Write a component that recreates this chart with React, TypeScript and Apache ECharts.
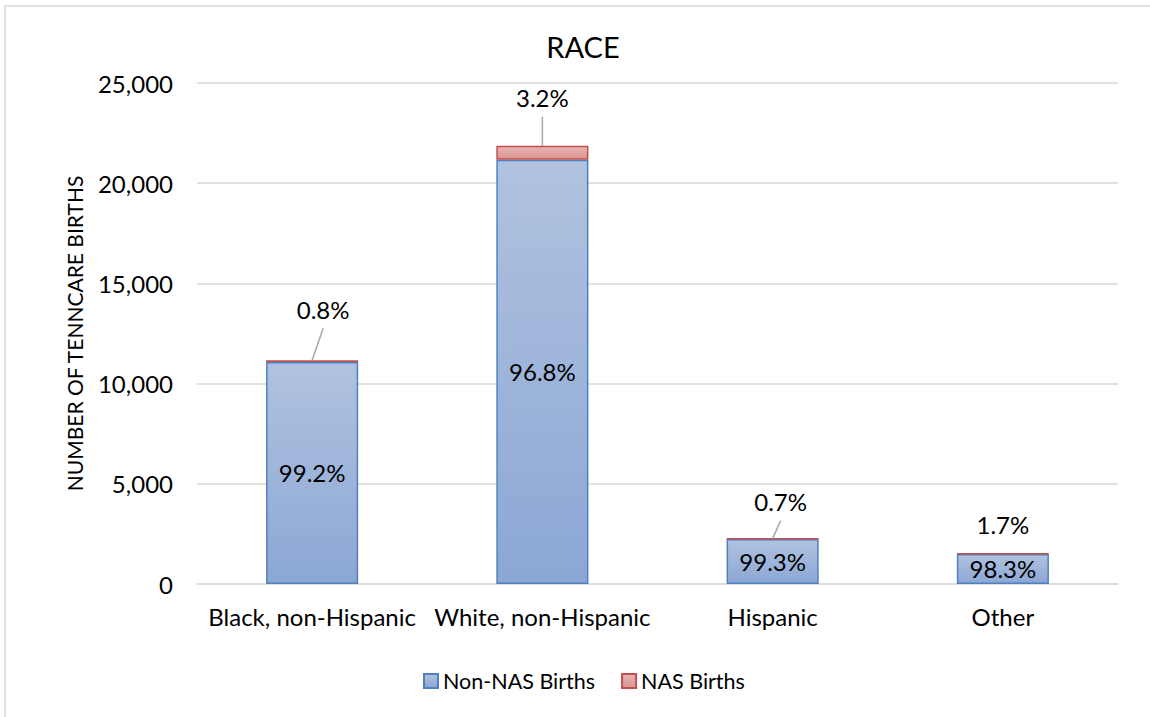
import React, { useEffect, useRef } from "react";
import * as echarts from "echarts";

// Births covered by TennCare, split by NAS diagnosis, per race group
const categories = ["Black, non-Hispanic", "White, non-Hispanic", "Hispanic", "Other"];
const nonNasBirths = [11080, 21170, 2250, 1500];
const nasBirths = [89, 700, 16, 26];
const yTicks = { min: 0, max: 25000, interval: 5000 };

// NAS callouts: label offset from the top of the stack (px) and whether a leader line is drawn
const nasCallout = [
  { dx: 11, rise: 51, line: true },
  { dx: 0, rise: 48, line: true },
  { dx: 8, rise: 37, line: true },
  { dx: 0, rise: 29, line: false },
];

const FONT = "Lato, 'Noto Sans', sans-serif";

const pct = (part: number, i: number) =>
  ((part / (nonNasBirths[i] + nasBirths[i])) * 100).toFixed(1) + "%";

export default function App() {
  const ref = useRef<HTMLDivElement>(null);

  useEffect(() => {
    if (!ref.current) return;
    const chart = echarts.init(ref.current, undefined, { renderer: "svg" });

    const blueFill = new echarts.graphic.LinearGradient(0, 0, 0, 1, [
      { offset: 0, color: "#b0c2df" },
      { offset: 1, color: "#8ca7d5" },
    ]);
    const redFill = new echarts.graphic.LinearGradient(0, 0, 0, 1, [
      { offset: 0, color: "#e8b4b3" },
      { offset: 1, color: "#d99492" },
    ]);

    chart.setOption({
      animation: false,
      backgroundColor: "#ffffff",
      textStyle: { fontFamily: FONT },
      title: {
        text: "RACE",
        left: 578,
        top: 27,
        textAlign: "center",
        textStyle: { fontFamily: FONT, fontSize: 29, fontWeight: "normal", color: "#000" },
      },
      graphic: [
        {
          type: "rect",
          shape: { x: 5, y: 6, width: 1160, height: 730 },
          style: { fill: "none", stroke: "#d9d9d9", lineWidth: 1.5 },
          silent: true,
        },
      ],
      legend: {
        bottom: 20,
        left: 418,
        icon: "rect",
        itemWidth: 14,
        itemHeight: 14,
        itemGap: 26,
        textStyle: { fontFamily: FONT, fontSize: 21.5, color: "#000" },
        data: ["Non-NAS Births", "NAS Births"],
      },
      grid: { left: 197, right: 32, top: 83, bottom: 133, containLabel: false },
      xAxis: {
        type: "category",
        data: categories,
        axisLine: { lineStyle: { color: "#d9d9d9", width: 1.5 } },
        axisTick: { show: false },
        axisLabel: { interval: 0, fontFamily: FONT, fontSize: 24, color: "#000", margin: 20 },
      },
      yAxis: {
        type: "value",
        min: yTicks.min,
        max: yTicks.max,
        interval: yTicks.interval,
        name: "NUMBER OF TENNCARE BIRTHS",
        nameLocation: "middle",
        nameGap: 112,
        nameRotate: 90,
        nameTextStyle: { fontFamily: FONT, fontSize: 21, color: "#000" },
        axisLine: { show: false },
        axisTick: { show: false },
        splitLine: { lineStyle: { color: "#d9d9d9", width: 1.5 } },
        axisLabel: {
          fontFamily: FONT,
          fontSize: 24,
          color: "#000",
          margin: 24,
          formatter: (v: number) => v.toLocaleString("en-US"),
        },
      },
      series: [
        {
          name: "Non-NAS Births",
          type: "bar",
          stack: "births",
          barWidth: "40%",
          data: nonNasBirths,
          itemStyle: { color: blueFill, borderColor: "#4f81bd", borderWidth: 1.5 },
          label: {
            show: true,
            position: "inside",
            fontFamily: FONT,
            fontSize: 24,
            color: "#000",
            formatter: (p: any) => pct(p.value, p.dataIndex),
          },
        },
        {
          name: "NAS Births",
          type: "bar",
          stack: "births",
          barWidth: "40%",
          data: nasBirths,
          itemStyle: { color: redFill, borderColor: "#c0504d", borderWidth: 1.5 },
        },
        {
          // NAS share callouts above each stack, with a leader line down to the bar
          type: "custom",
          silent: true,
          z: 5,
          data: categories.map((_, i) => [i, nonNasBirths[i] + nasBirths[i]]),
          renderItem: (params: any, api: any) => {
            const i = params.dataIndex;
            const [x, y] = api.coord([api.value(0), api.value(1)]);
            const c = nasCallout[i];
            const lx = x + c.dx;
            const ly = y - c.rise;
            const children: any[] = [
              {
                type: "text",
                style: {
                  x: lx,
                  y: ly,
                  text: pct(nasBirths[i], i),
                  align: "center",
                  verticalAlign: "middle",
                  fontFamily: FONT,
                  fontSize: 24,
                  fill: "#000",
                },
              },
            ];
            if (c.line) {
              children.push({
                type: "line",
                shape: { x1: x, y1: y, x2: lx, y2: ly + 19 },
                style: { stroke: "#a6a6a6", lineWidth: 1.5 },
              });
            }
            return { type: "group", children };
          },
        },
      ],
    });

    return () => chart.dispose();
  }, []);

  return (
    <div
      ref={ref}
      style={{ position: "fixed", left: 0, top: 0, width: 1150, height: 717 }}
    />
  );
}
